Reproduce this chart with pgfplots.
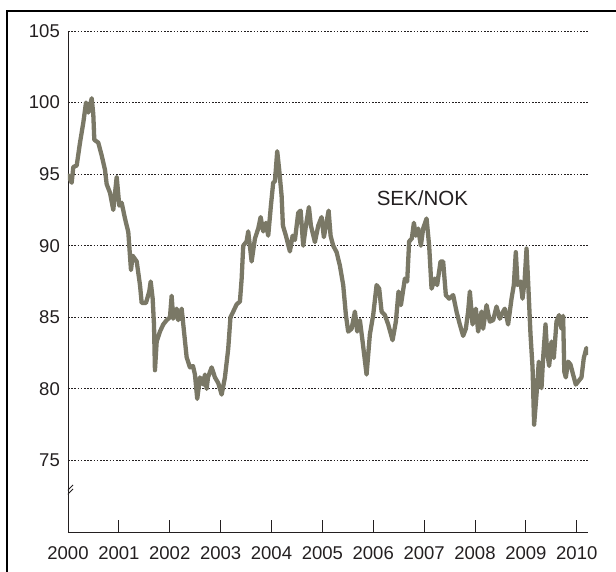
\documentclass[border=0pt]{standalone}
\usepackage{fontspec}
\setmainfont{Liberation Sans}
\usepackage{pgfplots}
\pgfplotsset{compat=1.18}
\definecolor{linec}{RGB}{122,120,102}
\definecolor{txt}{RGB}{35,31,32}
\begin{document}
\begin{tikzpicture}
\useasboundingbox (0,0) rectangle (616pt,572pt);
\draw[line width=2pt,black] (7pt,-2pt) -- (7pt,561pt) -- (618pt,561pt);
\begin{axis}[
  at={(68pt,40pt)}, anchor=south west,
  scale only axis, width=520pt, height=501pt,
  xmin=2000, xmax=2010.22, ymin=70, ymax=105,
  axis x line*=bottom, axis y line*=left,
  axis line style={txt, line width=0.9pt, -},
  xtick={2000,...,2010},
  ytick={75,80,...,105},
  tick align=inside,
  xtick style={txt, line width=0.9pt},
  major tick length=12pt,
  ytick style={draw=none},
  ymajorgrids,
  major grid style={txt, line width=0.8pt, dash pattern=on 1.6pt off 1.6pt},
  /pgf/number format/1000 sep={},
  /pgf/number format/assume math mode=true,
  tick label style={font=\fontsize{18.5}{20}\selectfont, text=txt},
  xticklabel style={anchor=north, inner sep=0pt, yshift=-14pt},
  yticklabel style={anchor=east, inner sep=0pt, xshift=-8pt},
]
\addplot[linec, line width=4.3pt, line join=round, line cap=round] coordinates {
(2000.006,94.9)(2000.073,94.4)(2000.104,95.5)(2000.171,95.6)(2000.236,97.2)
(2000.301,98.6)(2000.354,100.0)(2000.399,99.3)(2000.466,100.3)(2000.497,99.2)
(2000.517,97.4)(2000.595,97.2)(2000.662,96.3)(2000.727,95.3)(2000.760,94.3)
(2000.825,93.7)(2000.890,92.5)(2000.957,94.8)(2001.008,92.8)(2001.055,93.0)
(2001.120,91.9)(2001.185,90.95)(2001.238,88.3)(2001.271,89.3)(2001.350,88.9)
(2001.415,87.25)(2001.448,86.0)(2001.532,86.0)(2001.597,86.8)(2001.625,87.5)
(2001.664,86.3)(2001.690,84.5)(2001.709,81.3)(2001.743,83.3)(2001.807,84.0)
(2001.872,84.5)(2001.939,84.8)(2002.004,85.0)(2002.037,86.5)(2002.068,84.9)
(2002.135,85.6)(2002.167,84.8)(2002.234,85.6)(2002.332,82.2)(2002.397,81.5)
(2002.456,81.6)(2002.495,81.0)(2002.540,79.3)(2002.593,80.8)(2002.658,80.3)
(2002.692,81.0)(2002.725,80.0)(2002.751,80.8)(2002.823,81.5)(2002.888,80.8)
(2002.953,80.4)(2003.020,79.6)(2003.084,80.8)(2003.149,82.8)(2003.193,85.0)
(2003.248,85.4)(2003.314,85.9)(2003.379,86.1)(2003.413,87.7)(2003.444,90.0)
(2003.511,90.3)(2003.542,91.0)(2003.609,88.9)(2003.674,90.5)(2003.739,91.2)
(2003.786,92.0)(2003.837,91.0)(2003.890,91.6)(2003.935,90.7)(2003.988,92.8)
(2004.033,94.4)(2004.067,94.5)(2004.112,96.6)(2004.151,95.3)(2004.198,93.5)
(2004.224,91.4)(2004.283,90.7)(2004.361,89.6)(2004.415,90.7)(2004.460,90.4)
(2004.525,92.3)(2004.572,92.45)(2004.623,90.0)(2004.676,91.4)(2004.735,92.7)
(2004.774,91.4)(2004.853,90.25)(2004.918,91.4)(2004.984,92.0)(2005.029,90.6)
(2005.069,91.4)(2005.122,92.45)(2005.161,90.7)(2005.212,90.0)(2005.279,89.55)
(2005.344,88.6)(2005.409,87.25)(2005.462,85.15)(2005.507,84.0)(2005.574,84.2)
(2005.639,85.4)(2005.684,84.0)(2005.737,84.8)(2005.790,83.3)(2005.868,81.0)
(2005.933,83.8)(2005.998,85.15)(2006.065,87.25)(2006.116,87.0)(2006.163,85.4)
(2006.228,85.15)(2006.293,84.5)(2006.379,83.4)(2006.444,84.7)(2006.496,86.8)
(2006.543,85.85)(2006.621,87.7)(2006.666,87.5)(2006.705,90.3)(2006.758,90.5)
(2006.798,91.6)(2006.837,90.7)(2006.882,91.2)(2006.935,90.0)(2006.980,91.2)
(2007.047,91.9)(2007.098,90.0)(2007.145,87.0)(2007.210,87.7)(2007.255,87.25)
(2007.322,88.9)(2007.373,88.9)(2007.426,86.55)(2007.491,86.3)(2007.570,86.55)
(2007.636,85.4)(2007.701,84.5)(2007.766,83.7)(2007.819,84.2)(2007.864,85.4)
(2007.898,86.8)(2007.951,84.5)(2008.016,85.6)(2008.061,84.0)(2008.128,85.4)
(2008.159,84.2)(2008.226,85.85)(2008.291,84.7)(2008.356,84.8)(2008.422,85.75)
(2008.487,84.9)(2008.552,85.4)(2008.585,85.6)(2008.650,84.5)(2008.717,86.3)
(2008.762,87.25)(2008.801,89.55)(2008.837,87.25)(2008.894,87.5)(2008.933,86.3)
(2008.973,87.5)(2009.012,89.8)(2009.043,87.5)(2009.090,83.8)(2009.130,81.5)
(2009.161,77.5)(2009.208,79.6)(2009.253,81.9)(2009.306,80.05)(2009.338,82.15)
(2009.385,84.5)(2009.416,82.6)(2009.456,81.6)(2009.503,83.3)(2009.548,82.15)
(2009.601,84.7)(2009.652,85.15)(2009.699,84.2)(2009.731,85.1)(2009.754,81.2)
(2009.784,80.8)(2009.829,81.9)(2009.876,81.7)(2009.927,81.0)(2009.980,80.3)
(2010.025,80.5)(2010.092,80.8)(2010.137,82.15)(2010.189,82.85)(2010.221,82.5)
};
\node[txt, font=\fontsize{20.5}{22}\selectfont, inner sep=0pt] at (axis cs:2006.965,93.33) {SEK/NOK};
\draw[txt, line width=0.9pt] ([shift={(-5pt,-7pt)}]axis cs:2000,72.8) -- ++(10pt,10pt);
\draw[txt, line width=0.9pt] ([shift={(-5pt,-3pt)}]axis cs:2000,72.8) -- ++(10pt,10pt);
\end{axis}
\end{tikzpicture}
\end{document}
